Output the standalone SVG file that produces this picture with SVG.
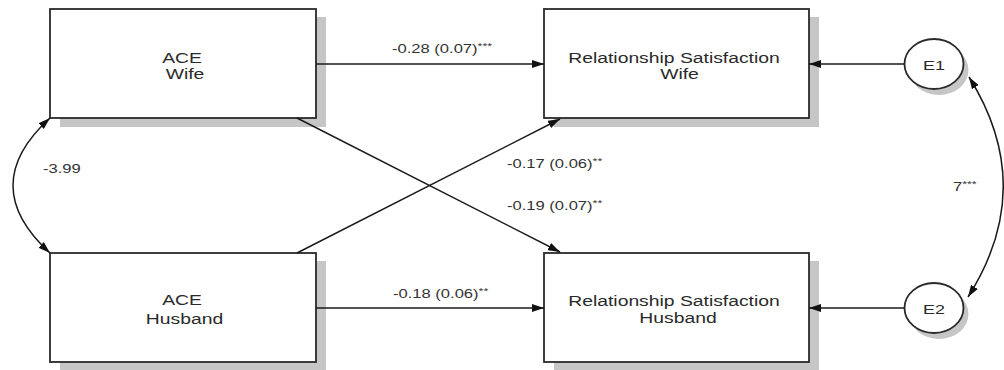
<svg xmlns="http://www.w3.org/2000/svg" width="1004" height="370" viewBox="0 0 1004 370">
<style>
.box{fill:#fff;stroke:#2a2a2a;stroke-width:1.8}
.sh{fill:#c6c6c6}
.lab{font-family:"Liberation Sans",Arial,sans-serif;font-size:14px;fill:#2a2a2a;text-anchor:middle}
.el{font-family:"Liberation Sans",Arial,sans-serif;font-size:12px;fill:#333}
.sup{font-size:9px}
.con{fill:none;stroke:#1a1a1a;stroke-width:1.5}
</style>
<defs>
<marker id="ah" viewBox="0 0 12 8" refX="12" refY="4" markerWidth="12" markerHeight="8" markerUnits="userSpaceOnUse" orient="auto-start-reverse">
<path d="M0,0 L12,4 L0,8 Z" fill="#111"/>
</marker>
</defs>
<g id="ace-wife">
<rect class="sh" x="60" y="17" width="266" height="110"/>
<rect class="box" x="50" y="9" width="266" height="109"/>
<text class="lab" transform="translate(182,63) scale(1.38,1)">ACE</text>
<text class="lab" transform="translate(185,79) scale(1.38,1)">Wife</text>
</g>
<g id="ace-husband">
<rect class="sh" x="60" y="261" width="266" height="110"/>
<rect class="box" x="50" y="253" width="266" height="109"/>
<text class="lab" transform="translate(182,305) scale(1.38,1)">ACE</text>
<text class="lab" transform="translate(184.5,324) scale(1.38,1)">Husband</text>
</g>
<g id="rs-wife">
<rect class="sh" x="554" y="17" width="265" height="110"/>
<rect class="box" x="544" y="9" width="265" height="109"/>
<text class="lab" transform="translate(674,63) scale(1.38,1)">Relationship Satisfaction</text>
<text class="lab" transform="translate(679.5,79) scale(1.38,1)">Wife</text>
</g>
<g id="rs-husband">
<rect class="sh" x="554" y="261" width="265" height="110"/>
<rect class="box" x="544" y="253" width="265" height="109"/>
<text class="lab" transform="translate(674,306) scale(1.38,1)">Relationship Satisfaction</text>
<text class="lab" transform="translate(678,323) scale(1.38,1)">Husband</text>
</g>
<g id="e1">
<ellipse class="sh" cx="939" cy="70" rx="29.5" ry="25"/>
<ellipse class="box" cx="934" cy="64" rx="29.5" ry="25"/>
<text class="lab" style="font-size:13px" transform="translate(934,70) scale(1.38,1)">E1</text>
</g>
<g id="e2">
<ellipse class="sh" cx="939" cy="314" rx="29.5" ry="25"/>
<ellipse class="box" cx="934" cy="308" rx="29.5" ry="25"/>
<text class="lab" style="font-size:13px" transform="translate(934,314) scale(1.38,1)">E2</text>
</g>
<g id="connectors">
<line class="con" x1="316" y1="64" x2="544" y2="64" marker-end="url(#ah)"/>
<line class="con" x1="316" y1="308" x2="544" y2="308" marker-end="url(#ah)"/>
<line class="con" x1="297" y1="118" x2="560" y2="252" marker-end="url(#ah)"/>
<line class="con" x1="297" y1="253" x2="560" y2="119" marker-end="url(#ah)"/>
<line class="con" x1="904.5" y1="64" x2="809" y2="64" marker-end="url(#ah)"/>
<line class="con" x1="904.5" y1="308" x2="809" y2="308" marker-end="url(#ah)"/>
<path class="con" d="M50,118 Q-24,185.5 50,253" marker-start="url(#ah)" marker-end="url(#ah)"/>
<path class="con" d="M969,77 Q1038,187 968,297" marker-start="url(#ah)" marker-end="url(#ah)"/>
<text class="el" transform="translate(392,53) scale(1.38,1)">-0.28 (0.07)<tspan class="sup" dy="-4">***</tspan></text>
<text class="el" transform="translate(507,168) scale(1.38,1)">-0.17 (0.06)<tspan class="sup" dy="-4">**</tspan></text>
<text class="el" transform="translate(507,210) scale(1.38,1)">-0.19 (0.07)<tspan class="sup" dy="-4">**</tspan></text>
<text class="el" transform="translate(393,298) scale(1.38,1)">-0.18 (0.06)<tspan class="sup" dy="-4">**</tspan></text>
<text class="el" transform="translate(43,173) scale(1.38,1)">-3.99</text>
<text class="el" transform="translate(953,191) scale(1.38,1)">7<tspan class="sup" dy="-4">***</tspan></text>
</g>
</svg>
